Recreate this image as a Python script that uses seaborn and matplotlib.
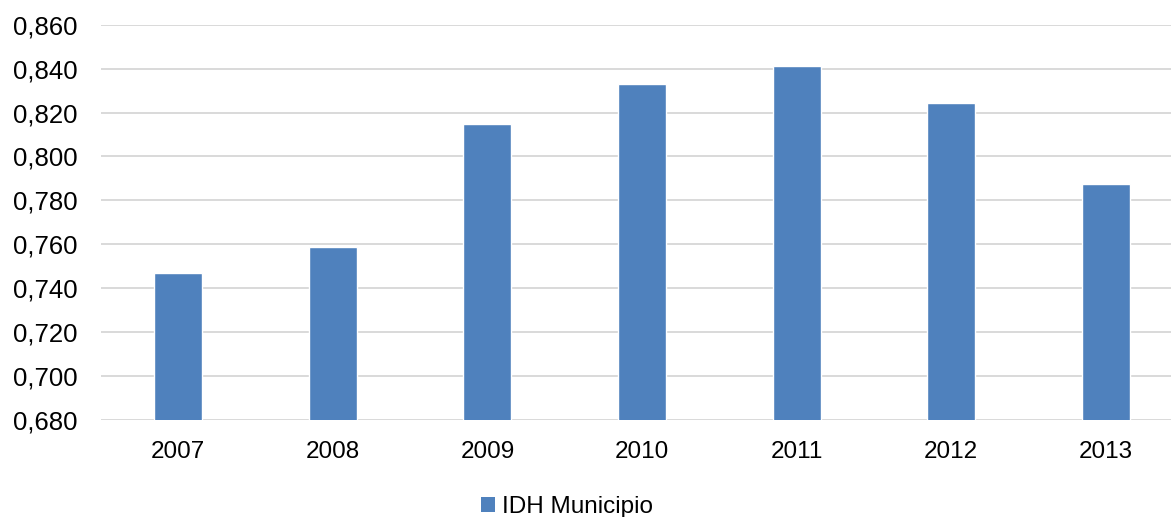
import numpy as np
import pandas as pd
import matplotlib
matplotlib.use("Agg")
import matplotlib.pyplot as plt
from matplotlib.patches import Patch
from matplotlib.ticker import FuncFormatter
import seaborn as sns

# data
anos = ["2007", "2008", "2009", "2010", "2011", "2012", "2013"]
idh = [0.7468, 0.7590, 0.8147, 0.8329, 0.8412, 0.8245, 0.7876]
serie = "IDH Municipio"

df = pd.DataFrame({"ano": anos, "idh": idh})

sns.set_style("white")
plt.rcParams["font.family"] = ["Liberation Sans", "DejaVu Sans"]
plt.rcParams["text.color"] = "black"

cor = "#4F81BD"
fig = plt.figure(figsize=(11.71, 5.17), dpi=100)
ax = fig.add_axes([101 / 1171, 97 / 517, 1082 / 1171, 395.3 / 517])

sns.barplot(data=df, x="ano", y="idh", color=cor, width=0.31,
            saturation=1, ax=ax)

ax.set_ylim(0.68, 0.86)
ax.set_xlim(-0.5, 6.5)
ax.set_yticks(np.arange(0.68, 0.8601, 0.02))
ax.yaxis.set_major_formatter(FuncFormatter(lambda v, p: f"{v:.3f}".replace(".", ",")))
ax.yaxis.grid(True, color="#D9D9D9", linewidth=1.4)
ax.set_axisbelow(True)
for s in ax.spines.values():
    s.set_visible(False)
ax.tick_params(axis="y", length=0, pad=17, labelsize=18.5, labelcolor="black")
ax.tick_params(axis="x", length=0, pad=15, labelsize=17.5, labelcolor="black")
ax.set_xlabel("")
ax.set_ylabel("")

handle = Patch(facecolor=cor, edgecolor="none")
fig.legend(handles=[handle], labels=[serie], loc="center",
           bbox_to_anchor=(567 / 1171, 1 - 507 / 517), frameon=False,
           fontsize=17.5, handlelength=0.6, handleheight=0.6, handletextpad=0.3,
           labelcolor="black")

fig.savefig("out.png", dpi=100)
